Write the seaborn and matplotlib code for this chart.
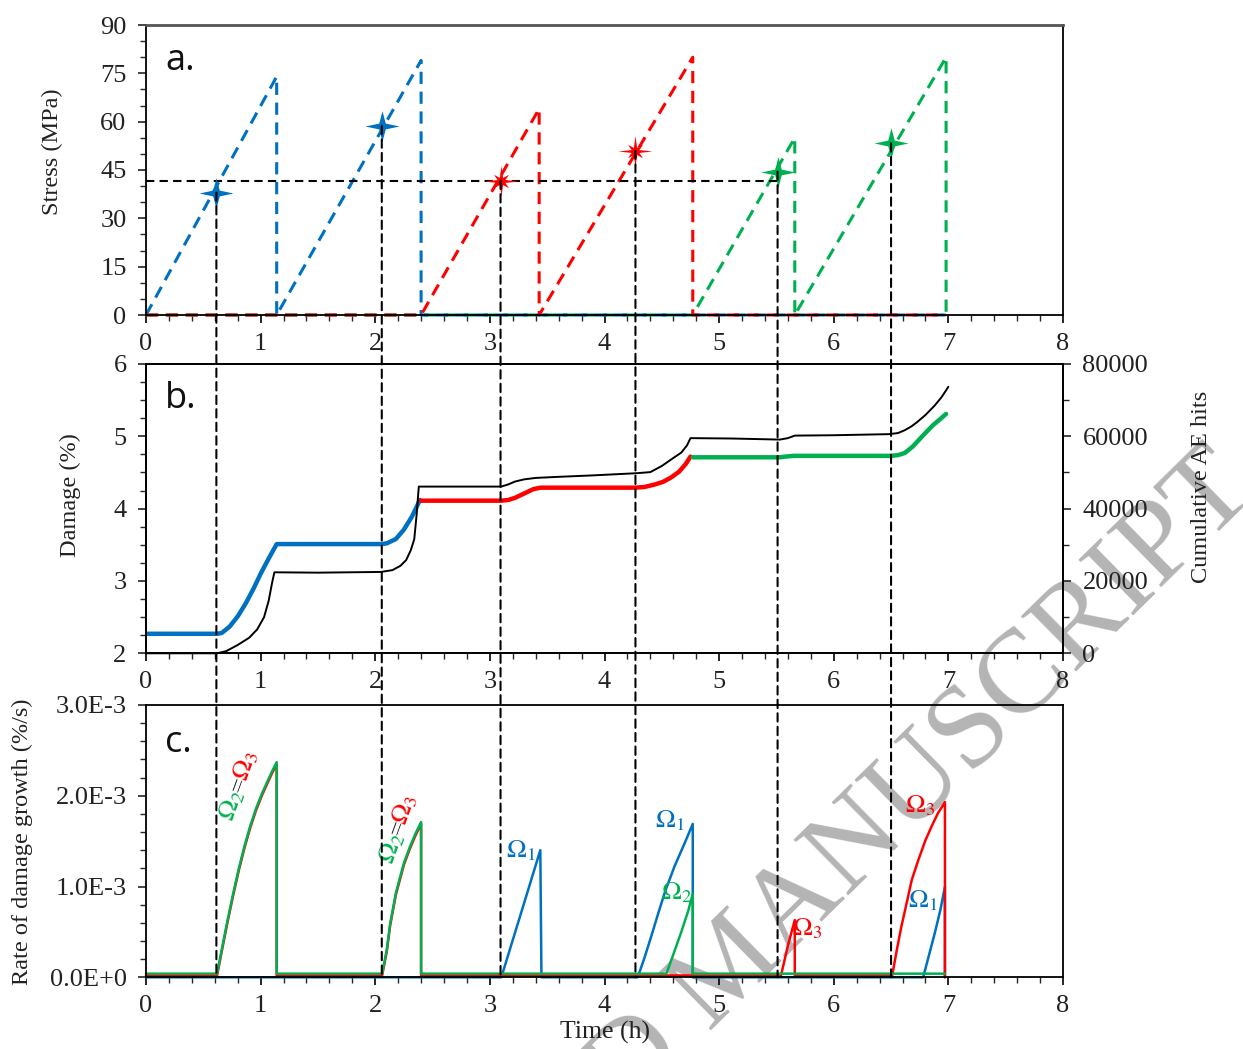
import numpy as np
import pandas as pd
import matplotlib
matplotlib.use("Agg")
import matplotlib.pyplot as plt
import seaborn as sns
from matplotlib.patches import ConnectionPatch
from matplotlib.path import Path
from matplotlib.ticker import MultipleLocator, FuncFormatter

# ---------------- data ----------------
# Panel a: stress (MPa) vs time (h)
stress_blue_t = [0, 1.14, 1.14, 2.40, 2.40, 6.98]
stress_blue_v = [0, 74, 0, 79, 0, 0]
stress_red_t = [0, 2.40, 3.43, 3.43, 4.77, 4.77, 6.98]
stress_red_v = [0, 0, 64, 0, 80, 0, 0]
stress_green_t = [0, 4.77, 5.66, 5.66, 6.98, 6.98]
stress_green_v = [0, 0, 55, 0, 80, 0]

star_t = [0.614, 2.057, 3.093, 4.27, 5.51, 6.50]
star_v = [38.0, 58.7, 41.7, 51.0, 44.5, 53.3]
star_c = ["blue", "blue", "red", "red", "green", "green"]
ref_stress = 41.6

# Panel b: damage (%) and cumulative AE hits
dmg_blue_t = [0, 0.62, 0.66, 0.73, 0.80, 0.87, 0.94, 1.00, 1.07, 1.14, 2.05, 2.10, 2.18, 2.25, 2.32, 2.39]
dmg_blue_v = [2.27, 2.27, 2.28, 2.37, 2.51, 2.69, 2.90, 3.10, 3.31, 3.51, 3.51, 3.52, 3.58, 3.71, 3.89, 4.12]
dmg_red_t = [2.40, 3.10, 3.16, 3.22, 3.30, 3.38, 3.44, 4.27, 4.35, 4.43, 4.51, 4.58, 4.65, 4.71, 4.75]
dmg_red_v = [4.11, 4.11, 4.12, 4.15, 4.21, 4.27, 4.29, 4.29, 4.30, 4.33, 4.37, 4.43, 4.51, 4.62, 4.72]
dmg_green_t = [4.77, 5.53, 5.58, 5.65, 6.50, 6.56, 6.62, 6.69, 6.76, 6.82, 6.87, 6.93, 6.98]
dmg_green_v = [4.71, 4.71, 4.72, 4.73, 4.73, 4.74, 4.77, 4.86, 4.98, 5.08, 5.16, 5.24, 5.31]

ae_t = [0, 0.62, 0.70, 0.80, 0.90, 0.97, 1.03, 1.07, 1.10, 1.12, 1.50, 2.05, 2.15, 2.22, 2.27,
        2.31, 2.34, 2.36, 2.38, 3.10, 3.16, 3.22, 3.30, 3.40, 3.60, 3.90, 4.28, 4.40, 4.50, 4.60,
        4.67, 4.72, 4.75, 5.10, 5.53, 5.60, 5.66, 6.00, 6.48, 6.56, 6.62, 6.68, 6.73, 6.80, 6.88,
        6.94, 7.00]
ae_v = [0, 0, 600, 2300, 4300, 6600, 10000, 14500, 19500, 22400, 22300, 22500, 23000, 24200, 25800,
        28500, 31500, 38000, 46100, 46100, 46700, 47500, 48100, 48500, 48800, 49200, 49800, 50100, 51800, 54000,
        55500, 57500, 59500, 59400, 59100, 59500, 60200, 60300, 60600, 60900, 61700, 62800, 64000, 65900, 68500,
        70800, 73700]

# Panel c: rate of damage growth (x1e-3 %/s)
rate_blue_t = [0, 3.10, 3.44, 3.45, 4.29, 4.35, 4.41, 4.47, 4.53, 4.61, 4.70, 4.77, 4.77,
               6.78, 6.83, 6.88, 6.93, 6.97, 6.97]
rate_blue_v = [0, 0, 1.40, 0, 0, 0.22, 0.46, 0.71, 0.95, 1.22, 1.48, 1.69, 0,
               0, 0.24, 0.48, 0.74, 1.00, 0]
rate_red_t = [0, 0.62, 0.66, 0.71, 0.76, 0.81, 0.86, 0.91, 0.96, 1.01, 1.06, 1.10, 1.14, 1.14,
              2.06, 2.10, 2.13, 2.18, 2.25, 2.30, 2.35, 2.40, 2.40,
              5.54, 5.60, 5.66, 5.66, 6.51, 6.55, 6.59, 6.64, 6.68, 6.74, 6.80, 6.86, 6.91, 6.97, 6.97]
rate_red_v = [0.02, 0.02, 0.28, 0.60, 0.90, 1.18, 1.43, 1.65, 1.84, 2.00, 2.14, 2.25, 2.35, 0.02,
              0.02, 0.28, 0.57, 0.91, 1.24, 1.41, 1.56, 1.69, 0.02,
              0.02, 0.35, 0.63, 0.02, 0.02, 0.30, 0.56, 0.84, 1.07, 1.30, 1.51, 1.68, 1.81, 1.93, 0.0]
rate_green_t = [0, 0.62, 0.66, 0.71, 0.76, 0.81, 0.86, 0.91, 0.96, 1.01, 1.06, 1.10, 1.14, 1.14,
                2.06, 2.10, 2.13, 2.18, 2.25, 2.30, 2.35, 2.40, 2.40,
                4.54, 4.60, 4.67, 4.73, 4.77, 4.77, 6.97]
rate_green_v = [0.04, 0.04, 0.30, 0.62, 0.92, 1.20, 1.45, 1.67, 1.86, 2.02, 2.16, 2.27, 2.37, 0.04,
                0.04, 0.30, 0.59, 0.93, 1.26, 1.43, 1.58, 1.71, 0.04,
                0.04, 0.25, 0.50, 0.73, 0.92, 0.04, 0.04]

# ---------------- style ----------------
sns.set_theme(style="ticks")
plt.rcParams["font.family"] = ["Liberation Serif", "DejaVu Serif"]
plt.rcParams["mathtext.fontset"] = "stix"
plt.rcParams["axes.linewidth"] = 1.3

COL = {"blue": "#0070C0", "red": "#FF0000", "green": "#00B050"}
TICK_FS = 19
LAB_FS = 17.5
TXT = "#222222"

fig = plt.figure(figsize=(12.43, 10.49), dpi=100)
fig.patch.set_facecolor("white")

L, W = 146 / 1243, 917 / 1243
ax_a = fig.add_axes([L, 1 - 315 / 1049, W, 290 / 1049])
ax_b = fig.add_axes([L, 1 - 653.3 / 1049, W, 289.3 / 1049])
ax_c = fig.add_axes([L, 1 - 977.3 / 1049, W, 272.3 / 1049])
ax_b2 = ax_b.twinx()

for ax in (ax_a, ax_b, ax_c, ax_b2):
    ax.set_facecolor("none")
    ax.patch.set_alpha(0)
    for sp in ax.spines.values():
        sp.set_color("black")
        sp.set_linewidth(1.3)
ax_a.spines["top"].set_color("#555555")
ax_a.spines["top"].set_linewidth(2.0)


def style_x(ax):
    ax.set_xlim(0, 8)
    ax.xaxis.set_major_locator(MultipleLocator(1))
    ax.xaxis.set_minor_locator(MultipleLocator(0.2))
    ax.tick_params(axis="x", which="major", direction="out", length=6, width=1.2,
                   labelsize=TICK_FS, pad=7, colors="black", labelcolor=TXT)
    ax.tick_params(axis="x", which="minor", direction="out", length=4, width=1.0)
    ax.tick_params(axis="y", which="major", direction="out", length=6, width=1.2,
                   labelsize=TICK_FS, pad=8, labelcolor=TXT)
    ax.tick_params(axis="y", which="minor", direction="out", length=4, width=1.0)
    ax.tick_params(top=False, right=False, which="both")


DASH = (0, (4, 2.5))

# ---------------- panel a ----------------
for t, v, c in [(stress_green_t, stress_green_v, "green"),
                (stress_blue_t, stress_blue_v, "blue"),
                (stress_red_t, stress_red_v, "red")]:
    sns.lineplot(x=t, y=v, ax=ax_a, color=COL[c], lw=2.2, linestyle=DASH,
                 sort=False, estimator=None, clip_on=False)

sns.lineplot(x=[0, star_t[4]], y=[ref_stress, ref_stress], ax=ax_a, color="black",
             lw=1.5, linestyle=DASH, sort=False, estimator=None)

# star markers (shape only)
ang = np.deg2rad(np.arange(0, 360, 45))
rad = np.array([1, 0.27] * 4)
star4 = Path(np.c_[rad * np.cos(ang), 0.9 * rad * np.sin(ang)])
ang8 = np.deg2rad(np.arange(0, 360, 22.5))
rad8 = np.array([1, 0.25, 0.62, 0.25] * 4)
star8 = Path(np.c_[rad8 * np.cos(ang8), 0.9 * rad8 * np.sin(ang8)])

for t, v, c in zip(star_t, star_v, star_c):
    sns.scatterplot(x=[t], y=[v], ax=ax_a, marker=star8 if c == "red" else star4,
                    s=600, color=COL[c], linewidth=0, zorder=5)

ax_a.set_ylim(0, 90)
ax_a.yaxis.set_major_locator(MultipleLocator(15))
ax_a.yaxis.set_minor_locator(MultipleLocator(5))
style_x(ax_a)
ax_a.set_ylabel("Stress (MPa)", fontsize=LAB_FS, color=TXT)
ax_a.yaxis.set_label_coords(-0.091, 0.562)
ax_a.set_xlabel("")
ax_a.text(0.021, 0.876, "a.", transform=ax_a.transAxes, fontsize=26,
          family=["Open Sans", "DejaVu Sans"], ha="left", va="center", color="#111111")

# ---------------- panel b ----------------
sns.lineplot(x=dmg_blue_t, y=dmg_blue_v, ax=ax_b, color=COL["blue"], lw=3.2,
             sort=False, estimator=None)
sns.lineplot(x=dmg_red_t, y=dmg_red_v, ax=ax_b, color=COL["red"], lw=3.2,
             sort=False, estimator=None)
sns.lineplot(x=dmg_green_t, y=dmg_green_v, ax=ax_b, color=COL["green"], lw=3.2,
             sort=False, estimator=None)
ax_b.set_ylim(2, 6)
ax_b.yaxis.set_major_locator(MultipleLocator(1))
ax_b.yaxis.set_minor_locator(MultipleLocator(0.25))
style_x(ax_b)
ax_b.set_ylabel("Damage (%)", fontsize=LAB_FS, color=TXT)
ax_b.yaxis.set_label_coords(-0.071, 0.547)
ax_b.set_xlabel("")
ax_b.text(0.021, 0.88, "b.", transform=ax_b.transAxes, fontsize=26,
          family=["Open Sans", "DejaVu Sans"], ha="left", va="center", color="#111111")

sns.lineplot(x=ae_t, y=ae_v, ax=ax_b2, color="black", lw=1.4, sort=False, estimator=None,
             clip_on=False)
ax_b2.set_ylim(0, 80000)
ax_b2.yaxis.set_major_locator(MultipleLocator(20000))
ax_b2.yaxis.set_minor_locator(MultipleLocator(10000))
ax_b2.yaxis.set_major_formatter(FuncFormatter(lambda v, p: f"{int(round(v))}"))
ax_b2.tick_params(axis="y", which="major", direction="out", length=6, width=1.2,
                  labelsize=TICK_FS, pad=8, labelcolor=TXT)
ax_b2.tick_params(axis="y", which="minor", direction="out", length=4, width=1.0)
ax_b2.set_ylabel("Cumulative AE hits", fontsize=LAB_FS, color=TXT)
ax_b2.yaxis.set_label_coords(1.14, 0.574)
ax_b2.set_xlabel("")

# ---------------- panel c ----------------
sc = 1e-3
sns.lineplot(x=rate_blue_t, y=[v * sc for v in rate_blue_v], ax=ax_c, color=COL["blue"],
             lw=1.8, sort=False, estimator=None, clip_on=False)
sns.lineplot(x=rate_red_t, y=[v * sc for v in rate_red_v], ax=ax_c, color=COL["red"],
             lw=1.8, sort=False, estimator=None, clip_on=False)
sns.lineplot(x=rate_green_t, y=[v * sc for v in rate_green_v], ax=ax_c, color=COL["green"],
             lw=1.8, sort=False, estimator=None, clip_on=False)
ax_c.set_ylim(0, 3e-3)
ax_c.yaxis.set_major_locator(MultipleLocator(1e-3))
ax_c.yaxis.set_minor_locator(MultipleLocator(0.2e-3))


def efmt(v, p):
    if abs(v) < 1e-12:
        return "0.0E+0"
    m, e = f"{v:.1E}".split("E")
    return f"{m}E{int(e)}"


ax_c.yaxis.set_major_formatter(FuncFormatter(efmt))
style_x(ax_c)
ax_c.set_ylabel("Rate of damage growth (%/s)", fontsize=LAB_FS, color=TXT)
ax_c.yaxis.set_label_coords(-0.123, 0.496)
ax_c.set_xlabel("Time (h)", fontsize=18.5, color=TXT)
ax_c.xaxis.set_label_coords(0.5005, -0.16)
ax_c.text(0.021, 0.86, "c.", transform=ax_c.transAxes, fontsize=26,
          family=["Open Sans", "DejaVu Sans"], ha="left", va="center", color="#111111")

OFS = 19
# rotated two-colour labels
for (t2, v2), (te, ve), (t3, v3) in [((0.75, 1.90), (0.81, 2.12), (0.87, 2.33)),
                                     ((2.14, 1.42), (2.20, 1.64), (2.26, 1.85))]:
    ax_c.text(t2, v2 * sc, r"$\Omega_2$", color=COL["green"], fontsize=OFS, rotation=70,
              ha="center", va="center")
    ax_c.text(te, ve * sc, "=", color="#333333", fontsize=OFS, rotation=70,
              ha="center", va="center")
    ax_c.text(t3, v3 * sc, r"$\Omega_3$", color=COL["red"], fontsize=OFS, rotation=70,
              ha="center", va="center")

for t, v, s, c in [(3.27, 1.39, r"$\Omega_1$", "blue"),
                   (4.57, 1.72, r"$\Omega_1$", "blue"),
                   (4.63, 0.93, r"$\Omega_2$", "green"),
                   (5.77, 0.54, r"$\Omega_3$", "red"),
                   (6.75, 1.89, r"$\Omega_3$", "red"),
                   (6.78, 0.84, r"$\Omega_1$", "blue")]:
    ax_c.text(t, v * sc, s, color=COL[c], fontsize=OFS, ha="center", va="center")

# ---------------- guide lines across panels ----------------
for t, v in zip(star_t, star_v):
    con = ConnectionPatch(xyA=(t, v), coordsA="data", axesA=ax_a,
                          xyB=(t, 0), coordsB="data", axesB=ax_c,
                          color="black", lw=1.5, linestyle=DASH, zorder=0.5)
    fig.add_artist(con)

# ---------------- watermark ----------------
fig.text(1.0126, 0.5303, "ACCEPTED MANUSCRIPT", rotation=44.5, rotation_mode="anchor",
         ha="right", va="baseline", fontsize=86, color="#b4b4b4",
         family=["Liberation Serif"], zorder=-1)

fig.savefig("out.png", dpi=100, facecolor="white")
